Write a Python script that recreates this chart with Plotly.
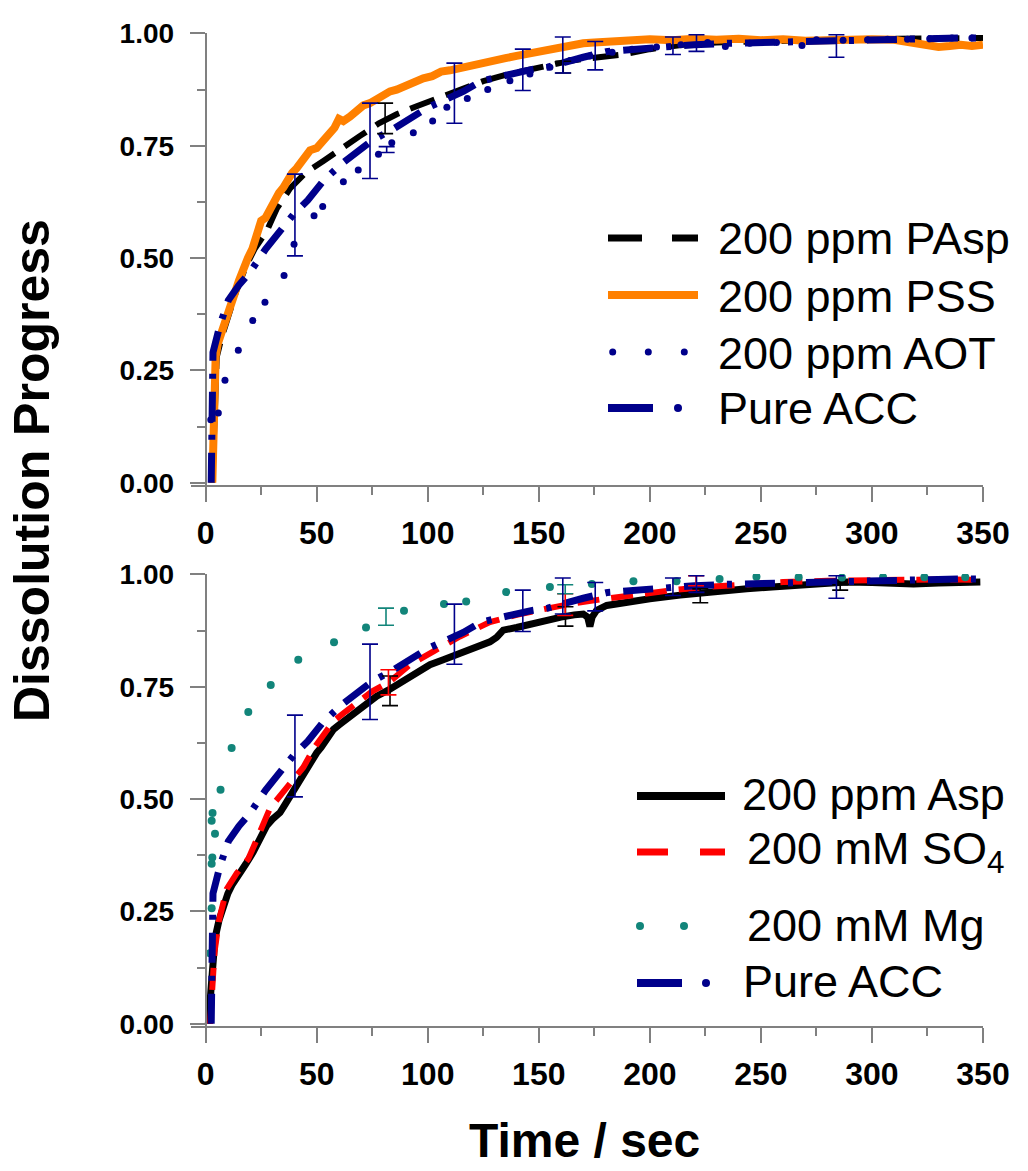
import plotly.graph_objects as go

W, H = 1028, 1171

# ---------------- data (top panel) ----------------
pasp_t = [3, 3.5, 4, 5, 7, 10, 14, 18, 22, 27.5, 32, 38, 45, 53, 61, 69.5, 78, 86, 95, 105, 115, 125,
          135, 145, 155, 165, 175, 188, 200, 215, 230, 250, 270, 290, 310, 330, 350]
pasp_y = [0.0, 0.1, 0.2, 0.28, 0.32, 0.37, 0.43, 0.48, 0.52, 0.56, 0.61, 0.655, 0.69, 0.716, 0.745, 0.772,
          0.8, 0.82, 0.838, 0.857, 0.876, 0.894, 0.908, 0.919, 0.93, 0.94, 0.946, 0.953, 0.965, 0.975, 0.98,
          0.983, 0.985, 0.987, 0.988, 0.989, 0.99]

pss_t = [3.0, 3.3, 3.6, 4.0, 4.5, 5.5, 7, 9, 11, 13, 15, 17, 19, 21, 23, 25, 27, 29, 31, 33, 35, 37, 39, 41,
         43, 45, 47, 50, 53, 56, 58, 60, 62, 65, 68, 71, 74, 77, 80, 83, 86, 90, 94, 98, 102, 106, 110, 114,
         118, 122, 126, 130, 135, 140, 145, 150, 155, 160, 165, 170, 175, 180, 190, 200, 210, 220, 230, 240,
         250, 260, 270, 280, 290, 300, 310, 320, 325, 330, 335, 340, 345, 350]
pss_y = [0.0, 0.08, 0.15, 0.22, 0.28, 0.31, 0.33, 0.36, 0.39, 0.42, 0.45, 0.48, 0.50, 0.52, 0.555, 0.583,
         0.59, 0.61, 0.625, 0.645, 0.657, 0.675, 0.69, 0.70, 0.715, 0.733, 0.74, 0.745, 0.76, 0.78, 0.79, 0.81,
         0.805, 0.815, 0.83, 0.84, 0.845, 0.855, 0.86, 0.871, 0.875, 0.885, 0.89, 0.90, 0.905, 0.915, 0.918,
         0.923, 0.928, 0.93, 0.936, 0.94, 0.945, 0.95, 0.955, 0.96, 0.965, 0.972, 0.975, 0.978, 0.98, 0.982,
         0.985, 0.987, 0.985, 0.988, 0.986, 0.988, 0.985, 0.987, 0.984, 0.986, 0.985, 0.987, 0.986, 0.978,
         0.972, 0.97, 0.972, 0.975, 0.972, 0.975]

aot_t = [2.3, 5.7, 8.7, 14.7, 21.2, 26.7, 35.3, 39.8, 48.8, 52.7, 62, 68.7, 77.8, 83.8, 93.5, 102.2, 108.6,
         117.8, 127, 137, 146, 155, 164, 173, 183, 192, 203, 214, 226, 234, 245, 257, 268.5, 275, 287, 298,
         307, 316, 326, 336, 345]
aot_y = [0.14, 0.155, 0.228, 0.295, 0.361, 0.402, 0.461, 0.531, 0.594, 0.615, 0.67, 0.696, 0.731, 0.757,
         0.779, 0.805, 0.836, 0.855, 0.875, 0.895, 0.91, 0.925, 0.94, 0.95, 0.958, 0.965, 0.97, 0.975, 0.98,
         0.971, 0.978, 0.98, 0.973, 0.986, 0.985, 0.986, 0.987, 0.987, 0.988, 0.99, 0.99]

acc_t = [2.5, 2.8, 3, 3.3, 6.4, 10.2, 15, 20, 27, 34, 40, 46, 53, 61, 68, 75, 84, 93, 100, 108, 116, 124,
         135, 146, 154, 160, 170, 181, 192, 200, 210, 220, 235, 250, 265, 280, 295, 310, 325, 340, 350]
acc_y = [0.0, 0.1, 0.2, 0.29, 0.35, 0.406, 0.44, 0.469, 0.52, 0.565, 0.60, 0.629, 0.672, 0.709, 0.735,
         0.762, 0.786, 0.816, 0.835, 0.853, 0.871, 0.894, 0.907, 0.919, 0.925, 0.934, 0.947, 0.96, 0.965,
         0.967, 0.97, 0.975, 0.978, 0.98, 0.982, 0.985, 0.985, 0.987, 0.988, 0.99, 0.99]

# error bars (low / high ends)
acc_err_t = [40.2, 74, 112, 142.8, 160.8, 175.4, 210.4, 221, 284]
acc_err_lo = [0.505, 0.677, 0.80, 0.873, 0.912, 0.919, 0.953, 0.96, 0.947]
acc_err_hi = [0.687, 0.845, 0.934, 0.965, 0.992, 0.982, 0.992, 0.997, 0.997]
pasp_err_t = [80.8, 161]
pasp_err_lo = [0.777, 0.912]
pasp_err_hi = [0.845, 0.938]
aot_err_t = [81.5]
aot_err_lo = [0.735]
aot_err_hi = [0.748]

# ---------------- data (bottom panel) ----------------
asp_t = [1.2, 2, 2.7, 4.2, 6, 7.9, 10, 12, 14, 16, 18, 21.4, 24, 27.5, 30, 33.5, 36, 38, 40, 42, 44, 46, 48,
         50, 52, 54, 57.5, 60, 64, 68, 72, 77, 82, 89, 95, 101, 107, 113, 118, 123.6, 128, 131, 134, 140, 146,
         153.6, 160, 166, 170, 172, 173, 174, 176, 180.6, 190, 200, 213.7, 225, 235, 243.6, 255, 265, 273.7,
         288.7, 300, 310, 318.7, 330, 340, 348.8]
asp_y = [0.0, 0.06, 0.117, 0.19, 0.23, 0.264, 0.29, 0.31, 0.323, 0.34, 0.355, 0.382, 0.41, 0.441, 0.455,
         0.47, 0.49, 0.507, 0.52, 0.54, 0.559, 0.575, 0.59, 0.603, 0.615, 0.63, 0.655, 0.665, 0.68, 0.692,
         0.71, 0.729, 0.742, 0.762, 0.78, 0.799, 0.81, 0.821, 0.83, 0.839, 0.85, 0.86, 0.876, 0.882, 0.89,
         0.898, 0.905, 0.91, 0.912, 0.905, 0.884, 0.905, 0.92, 0.931, 0.94, 0.946, 0.954, 0.96, 0.964, 0.968,
         0.972, 0.976, 0.979, 0.983, 0.982, 0.98, 0.979, 0.981, 0.982, 0.983]

so4_t = [2, 3, 3.4, 4, 6, 9.5, 14, 19.2, 23, 29, 36.6, 44, 49, 57.5, 63, 68, 75, 83, 92, 103, 114.5, 128,
         140, 153.6, 165, 180, 195.7, 210, 225, 243.6, 260, 280, 300, 314, 330, 349]
so4_y = [0.0, 0.08, 0.124, 0.16, 0.23, 0.30, 0.335, 0.367, 0.41, 0.48, 0.526, 0.571, 0.615, 0.673, 0.695,
         0.714, 0.74, 0.762, 0.799, 0.83, 0.862, 0.894, 0.91, 0.924, 0.935, 0.946, 0.957, 0.965, 0.972, 0.979,
         0.983, 0.986, 0.988, 0.99, 0.989, 0.988]

mg_t = [1.9, 2.7, 2.7, 3.0, 4.2, 2.7, 3.1, 6.7, 11.7, 19.2, 29.3, 41.7, 57.8, 72.2, 89.3, 107.3, 117.3, 135.3,
        155, 173.9, 192.6, 212, 231.4, 248, 267, 286.5, 305, 323.6, 342]
mg_y = [0.157, 0.257, 0.356, 0.37, 0.423, 0.452, 0.469, 0.521, 0.614, 0.694, 0.754, 0.81, 0.849, 0.882,
        0.919, 0.934, 0.94, 0.961, 0.972, 0.979, 0.985, 0.985, 0.99, 0.995, 0.994, 0.993, 0.994, 0.994, 0.994]

asp_err_t = [83, 162, 222.7, 285.7]
asp_err_lo = [0.708, 0.885, 0.937, 0.965]
asp_err_hi = [0.774, 0.928, 0.968, 0.977]
so4_err_t = [82.3, 161.9, 220.8]
so4_err_lo = [0.732, 0.909, 0.975]
so4_err_hi = [0.788, 0.957, 0.997]
mg_err_t = [81.2, 161.9]
mg_err_lo = [0.887, 0.957]
mg_err_hi = [0.925, 0.977]

x_ticks = [0, 50, 100, 150, 200, 250, 300, 350]
y_ticks = [0.0, 0.25, 0.5, 0.75, 1.0]

top_labels = ["200 ppm PAsp", "200 ppm PSS", "200 ppm AOT", "Pure ACC"]
bot_labels = ["200 ppm Asp", "200 mM SO<sub>4</sub>", "200 mM Mg", "Pure ACC"]

# ---------------- styling ----------------
NAVY = "#00008B"
ORANGE = "#FF8000"
RED = "#FF0000"
TEAL = "#12857A"
BLACK = "#000000"
GREY = "#808080"
FONT = "Liberation Sans, Arial, sans-serif"

fig = go.Figure()


def line(x, y, color, width, dash, xa, ya):
    fig.add_trace(go.Scatter(x=x, y=y, mode="lines", xaxis=xa, yaxis=ya, showlegend=False,
                             line=dict(color=color, width=width, dash=dash), hoverinfo="skip"))


def dots(x, y, color, size, xa, ya):
    fig.add_trace(go.Scatter(x=x, y=y, mode="markers", xaxis=xa, yaxis=ya, showlegend=False,
                             marker=dict(color=color, size=size, line=dict(width=0)), hoverinfo="skip"))


def errs(x, lo, hi, color, xa, ya):
    c = [(a + b) / 2 for a, b in zip(lo, hi)]
    e = [(b - a) / 2 for a, b in zip(lo, hi)]
    fig.add_trace(go.Scatter(x=x, y=c, mode="markers", xaxis=xa, yaxis=ya, showlegend=False,
                             marker=dict(color=color, size=2, opacity=0),
                             error_y=dict(type="data", array=e, color=color, thickness=1.6, width=8),
                             hoverinfo="skip"))


# top
line(pasp_t, pasp_y, BLACK, 6, "26px,12px", "x", "y")
line(pss_t, pss_y, ORANGE, 8, "solid", "x", "y")
dots(aot_t, aot_y, NAVY, 7, "x", "y")
line(acc_t, acc_y, NAVY, 7, "30px,13px,5px,13px", "x", "y")
errs(pasp_err_t, pasp_err_lo, pasp_err_hi, BLACK, "x", "y")
errs(aot_err_t, aot_err_lo, aot_err_hi, NAVY, "x", "y")
errs(acc_err_t, acc_err_lo, acc_err_hi, NAVY, "x", "y")

# bottom
line(asp_t, asp_y, BLACK, 7, "solid", "x2", "y2")
line(so4_t, so4_y, RED, 6, "22px,12px", "x2", "y2")
dots(mg_t, mg_y, TEAL, 8, "x2", "y2")
line(acc_t, acc_y, NAVY, 7, "30px,13px,5px,13px", "x2", "y2")
errs(asp_err_t, asp_err_lo, asp_err_hi, BLACK, "x2", "y2")
errs(so4_err_t, so4_err_lo, so4_err_hi, RED, "x2", "y2")
errs(mg_err_t, mg_err_lo, mg_err_hi, TEAL, "x2", "y2")
errs(acc_err_t, acc_err_lo, acc_err_hi, NAVY, "x2", "y2")


def px(p):
    return p / W


def py(p):
    return 1 - p / H


x_common = dict(range=[-6.6, 350], domain=[px(191), px(983)], showline=True, linecolor=GREY, linewidth=2,
                ticks="outside", ticklen=15, tickwidth=2, tickcolor=GREY, tickvals=x_ticks,
                ticktext=[str(v) for v in x_ticks], showgrid=False, zeroline=False, automargin=False,
                tickfont=dict(family=FONT, size=32, color="black", weight="bold"),
                ticklabelstandoff=4,
                minor=dict(tickvals=[25, 75, 125, 175, 225, 275, 325], ticklen=8, tickwidth=2,
                           tickcolor=GREY, ticks="outside"))
y_common = dict(range=[-0.005, 1.001], showline=True, linecolor=GREY, linewidth=2, anchor="free",
                position=px(205.7), ticks="outside", ticklen=15, tickwidth=2, tickcolor=GREY,
                tickvals=y_ticks, ticktext=["%.2f" % v for v in y_ticks], showgrid=False, zeroline=False,
                automargin=False,
                tickfont=dict(family=FONT, size=28, color="black", weight="bold"),
                ticklabelstandoff=10,
                minor=dict(tickvals=[0.125, 0.375, 0.625, 0.875], ticklen=8, tickwidth=2, tickcolor=GREY,
                           ticks="outside"))

fig.update_layout(
    width=W, height=H, margin=dict(l=0, r=0, t=0, b=0, pad=0, autoexpand=False),
    paper_bgcolor="white", plot_bgcolor="white", showlegend=False,
    xaxis=dict(x_common, anchor="y"),
    yaxis=dict(y_common, domain=[py(485), py(33)]),
    xaxis2=dict(x_common, anchor="y2"),
    yaxis2=dict(y_common, domain=[py(1026), py(574)]),
)

shapes = []
annots = []


def seg(x0, x1, y, color, w):
    shapes.append(dict(type="line", xref="paper", yref="paper", x0=px(x0), x1=px(x1), y0=py(y), y1=py(y),
                       line=dict(color=color, width=w)))


def dot(cx, cy, color, d):
    r = d / 2
    shapes.append(dict(type="circle", xref="paper", yref="paper", x0=px(cx - r), x1=px(cx + r),
                       y0=py(cy - r), y1=py(cy + r), fillcolor=color, line=dict(width=0)))


def label(text, x, y, size=45):
    annots.append(dict(text=text, xref="paper", yref="paper", x=px(x), y=py(y), xanchor="left",
                       yanchor="middle", showarrow=False, font=dict(family=FONT, size=size, color="black")))


# top legend
seg(608, 642, 238, BLACK, 7); seg(672, 698, 238, BLACK, 7)
seg(608, 698, 295, ORANGE, 8)
for cx in (612.7, 648.3, 684.3):
    dot(cx, 352, NAVY, 7)
seg(608, 653, 408, NAVY, 8); dot(678, 408, NAVY, 8)
for t, yy in zip(top_labels, (239, 296, 353, 409)):
    label(t, 716, yy)

# bottom legend
seg(637, 725, 796, BLACK, 8)
seg(637, 668, 852, RED, 7); seg(700, 725, 852, RED, 7)
dot(640, 926, TEAL, 8); dot(684, 926, TEAL, 8)
seg(637, 682, 983, NAVY, 8); dot(706, 983, NAVY, 8)
for t, xx, yy in zip(bot_labels, (740, 745, 745, 741), (794, 851, 925, 981)):
    label(t, xx, yy)

# axis titles
annots.append(dict(text="<b>Dissolution Progress</b>", xref="paper", yref="paper", x=px(32), y=py(471),
                   xanchor="center", yanchor="middle", textangle=-90, showarrow=False,
                   font=dict(family=FONT, size=50, color="black")))
annots.append(dict(text="<b>Time / sec</b>", xref="paper", yref="paper", x=px(584), y=py(1140),
                   xanchor="center", yanchor="middle", showarrow=False,
                   font=dict(family=FONT, size=48, color="black")))

fig.update_layout(shapes=shapes, annotations=annots)
fig.write_html("out.html")
